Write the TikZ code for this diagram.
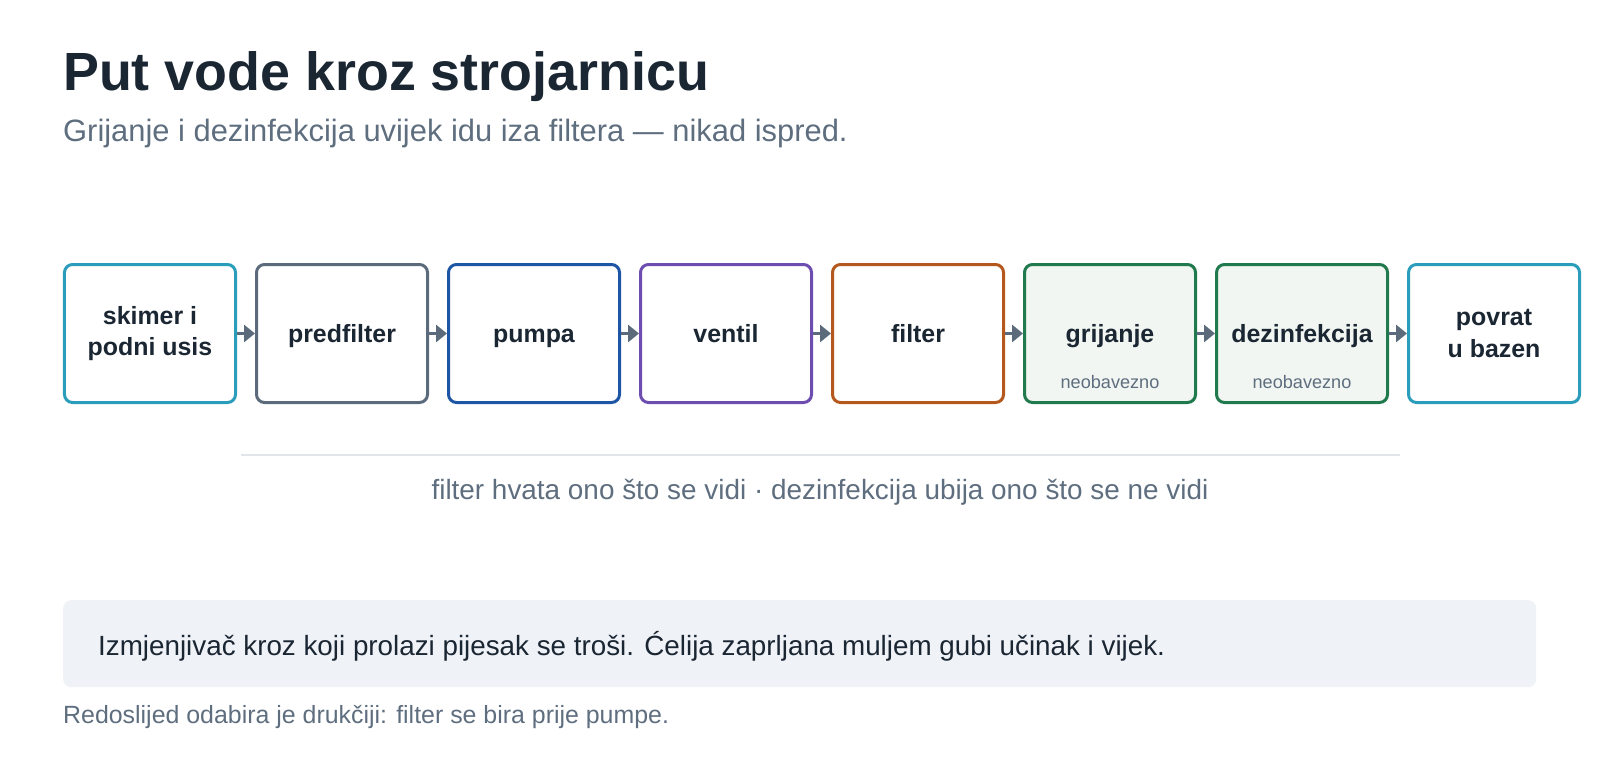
\documentclass[tikz,border=0pt]{standalone}
\usepackage{fontspec}
\setmainfont{Liberation Sans}
\usetikzlibrary{positioning,arrows.meta}
\definecolor{ink}{HTML}{1B2633}
\definecolor{muted}{HTML}{5E6E7F}
\definecolor{tealc}{HTML}{2A9DBA}
\definecolor{slatec}{HTML}{5B6B7C}
\definecolor{bluec}{HTML}{1F55A5}
\definecolor{purplec}{HTML}{6E4DB0}
\definecolor{orangec}{HTML}{B5581E}
\definecolor{greenc}{HTML}{217A4D}
\definecolor{greenfill}{HTML}{F1F6F2}
\definecolor{notefill}{HTML}{EFF2F7}
\definecolor{rulec}{HTML}{E2E6EA}
\newcommand{\fs}[1]{\fontsize{#1}{#1}\selectfont}
\tikzset{
  stage/.style={draw=#1, line width=3bp, rounded corners=8bp, fill=white,
    minimum width=171bp, minimum height=138bp, inner sep=0pt, align=center,
    text=ink, font=\fontsize{25}{32}\selectfont\bfseries},
  oneline/.style={text height=18bp, text depth=0pt},
  optional/.style={stage=greenc, fill=greenfill, oneline},
  sublabel/.style={text=muted, font=\fs{18.2}, inner sep=0pt},
  flow/.style={draw=slatec, line width=3.5bp, -{Triangle[length=11bp,width=17bp]}},
}

\begin{document}
\begin{tikzpicture}[x=1bp,y=-1bp]
\useasboundingbox (0,0) rectangle (1600,760);
% heading
\node[anchor=base west, inner sep=0pt, text=ink, font=\fs{54}\bfseries] (title) at (63,90) {Put vode kroz strojarnicu};
\node[anchor=base west, inner sep=0pt, text=muted, font=\fs{31}] (subtitle) at (63,141) {Grijanje i dezinfekcija uvijek idu iza filtera — nikad ispred.};
% the stages
\node[stage=tealc] (skimer) at (150,333.5) {skimer i\\podni usis};
\node[stage=slatec, oneline, right=18bp of skimer] (predf) {predfilter};
\node[stage=bluec, oneline, right=18bp of predf] (pumpa) {pumpa};
\node[stage=purplec, oneline, right=18bp of pumpa] (ventil) {ventil};
\node[stage=orangec, oneline, right=18bp of ventil] (filter) {filter};
\node[optional, right=18bp of filter] (grij) {grijanje};
\node[optional, right=18bp of grij] (dezinf) {dezinfekcija};
\node[stage=tealc, right=18bp of dezinf] (povrat) {povrat\\u bazen};
\node[sublabel, above=15bp of grij.south] (grijopt) {neobavezno};
\node[sublabel, above=15bp of dezinf.south] (dezinfopt) {neobavezno};
\draw[flow] (skimer) -- (predf);
\draw[flow] (predf) -- (pumpa);
\draw[flow] (pumpa) -- (ventil);
\draw[flow] (ventil) -- (filter);
\draw[flow] (filter) -- (grij);
\draw[flow] (grij) -- (dezinf);
\draw[flow] (dezinf) -- (povrat);
% divider and caption
\coordinate (rulea) at (241,455);
\coordinate (ruleb) at (1400,455);
\draw[rulec, line width=2bp] (rulea) -- (ruleb);
\node[anchor=base, inner sep=0pt, text=muted, font=\fs{28}] (caption) at (820,499) {filter hvata ono što se vidi · dezinfekcija ubija ono što se ne vidi};
% note
\node[anchor=north west, fill=notefill, rounded corners=8bp, minimum width=1473bp, minimum height=87bp, inner sep=0pt] (note) at (63,600) {};
\node[anchor=base west, inner sep=0pt, text=ink, font=\fs{27.9}] (notetxt) at ([xshift=35bp, yshift=-12bp]note.west) {Izmjenjivač kroz koji prolazi pijesak se troši. Ćelija zaprljana muljem gubi učinak i vijek.};
\node[anchor=base west, inner sep=0pt, text=muted, font=\fs{25}] (footnote) at (63,723) {Redoslijed odabira je drukčiji: filter se bira prije pumpe.};
\end{tikzpicture}
\end{document}
